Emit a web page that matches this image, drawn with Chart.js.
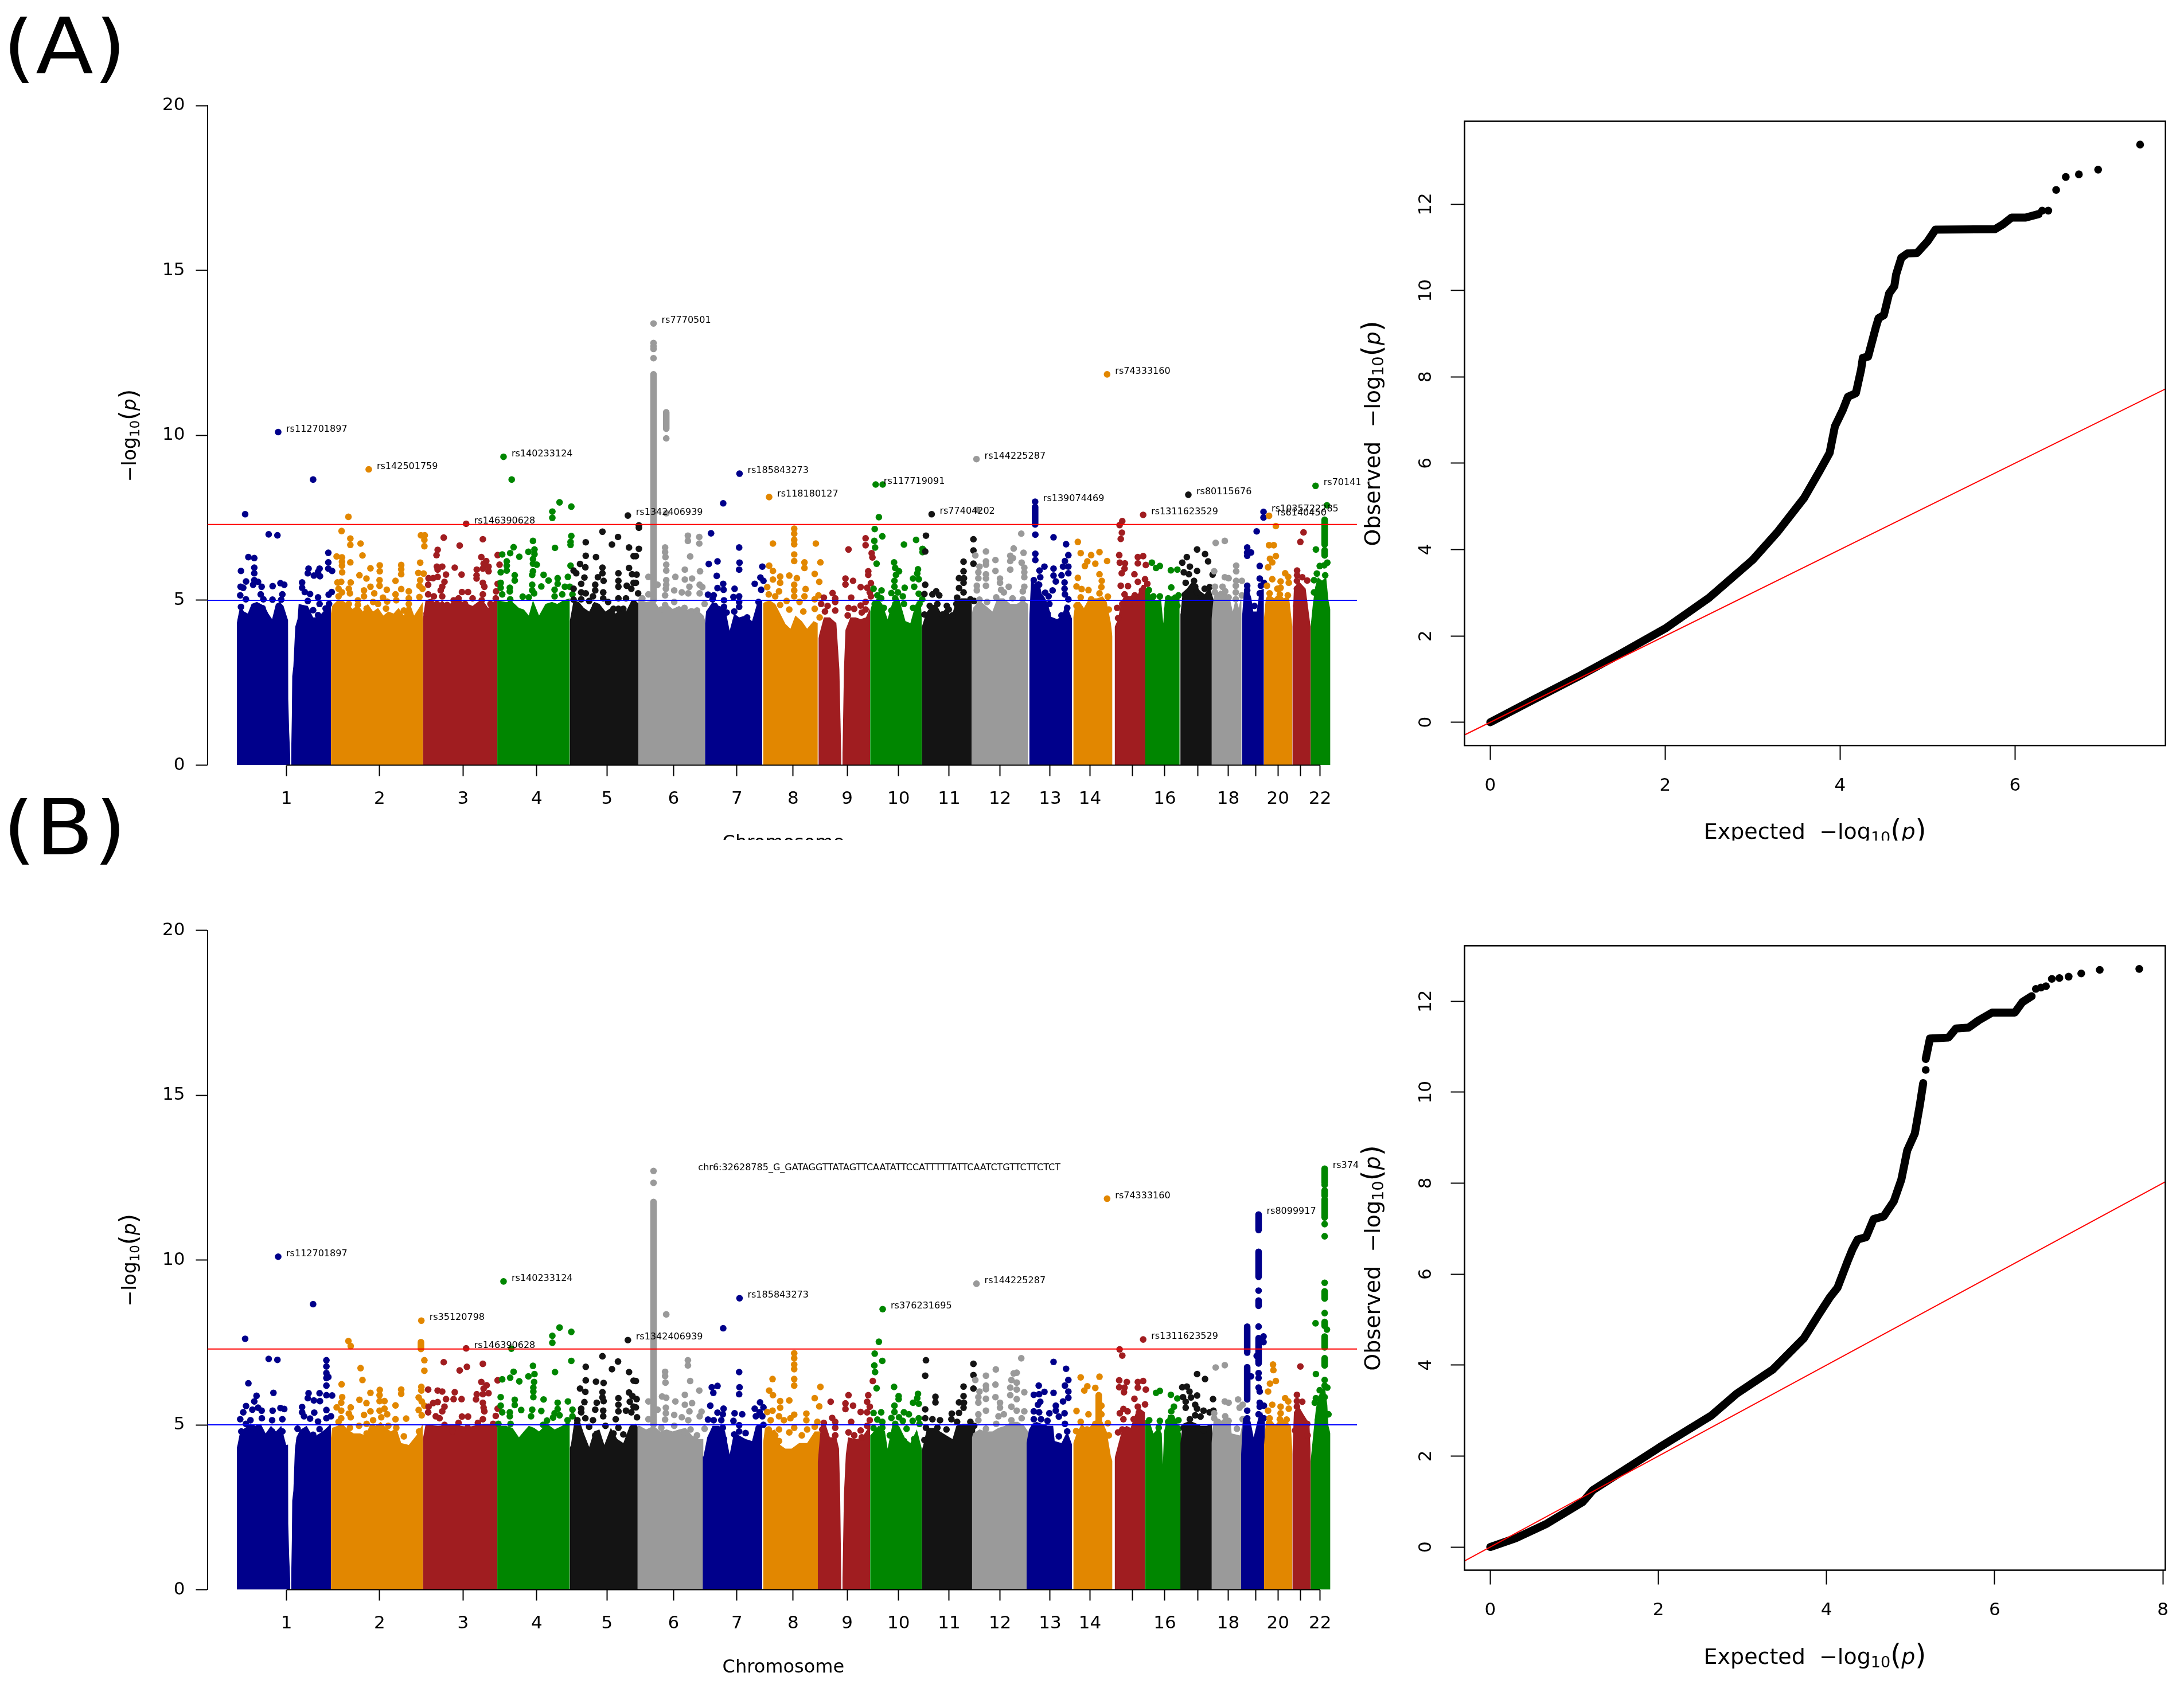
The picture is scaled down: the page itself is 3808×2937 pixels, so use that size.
<!DOCTYPE html>
<html>
<head>
<meta charset="utf-8">
<title>Manhattan and QQ plots</title>
<script src="https://cdn.jsdelivr.net/npm/chart.js@4/dist/chart.umd.min.js"></script>
<style>
html,body{margin:0;padding:0;background:#fff;width:3808px;height:2937px;overflow:hidden}
canvas{position:absolute;display:block}
.tag{position:absolute;left:5px;overflow:hidden;font:136px/158px "DejaVu Sans";color:#000;z-index:5;width:230px}
.tag div{margin-top:-28px;transform:scaleX(1.08);transform-origin:left top}
</style>
</head>
<body>
<div class="tag" style="top:29px;height:127px"><div>(A)</div></div>
<div class="tag" style="top:1392px;height:127px"><div>(B)</div></div>
<canvas id="manA" width="2372" height="1465" style="left:0;top:0"></canvas>
<canvas id="qqA" width="1436" height="1466" style="left:2372px;top:0"></canvas>
<canvas id="manB" width="2372" height="1472" style="left:0;top:1465px"></canvas>
<canvas id="qqB" width="1436" height="1472" style="left:2372px;top:1465px"></canvas>
<script>
// genome position in Mb along x, -log10(p) along y
const chrTicks = [131,376,596,790,975,1150,1317,1465,1607.6,1742.7,1876,2010,2142,2247,2359,2444,2531,2611,2683,2742,2801,2853];
const chrTickText = ['1','2','3','4','5','6','7','8','9','10','11','12','13','14','','16','','18','','20','','22'];
const yTicks = [0,5,10,15,20];
const sigLine = 7.3, suggestiveLine = 5;
const qqTicksA = [0,2,4,6], qqTicksB = [0,2,4,6,8], qqYTicks = [0,2,4,6,8,10,12];

// panel A: solid mass under the points, per chromosome
const massA1a=[[0,4.3],[2,4.43],[9,4.83],[19,4.66],[29,4.6],[39,4.89],[53,4.95],[63,4.89],[73,4.83],[83,4.6],[93,4.43],[103,4.89],[113,4.95],[123,4.83],[134,4.43],[135,4.4],[135.5,2],[138,1],[141,.2]];
const massA1b=[[143,.2],[145,1.5],[146,2.7],[149,3],[154,4.2],[160,4.43],[163,4.89],[174,4.86],[187,4.83],[201,4.48],[214,4.48],[228,4.66],[238,4.89],[248,5]];
const massA2=[[248,4.6],[251,4.83],[265,5],[278,5],[292,4.89],[305,4.74],[319,4.86],[332,4.66],[345,4.89],[359,4.66],[372,4.77],[386,4.54],[399,4.66],[413,4.6],[426,4.77],[440,4.54],[453,5],[467,4.54],[480,4.77],[490,4.95]];
const massA3=[[490,4.43],[497,5],[514,5.06],[527,4.83],[541,5],[554,4.83],[568,4.95],[581,5.06],[595,4.95],[608,4.89],[621,4.83],[635,4.95],[648,5],[662,4.77],[675,4.95],[686,5.06]];
const massA4=[[686,5],[709,4.95],[726,4.95],[743,4.77],[756,4.72],[769,4.54],[780,5],[796,4.54],[813,4.89],[830,4.95],[844,4.89],[860,5],[877,5.06]];
const massA5=[[877,4.37],[887,5],[901,4.95],[914,4.77],[928,4.66],[941,4.95],[955,4.89],[971,4.66],[985,4.77],[998,4.6],[1012,4.77],[1025,4.66],[1039,4.98],[1051,4.98],[1058,4.9]];
const massA6=[[1057,5.06],[1078,4.95],[1098,5],[1115,4.72],[1132,4.89],[1148,4.74],[1165,4.83],[1182,4.69],[1196,4.77],[1212,4.72],[1229,4.54],[1233,4.4]];
const massA7=[[1233,4.3],[1236,4.66],[1253,4.95],[1270,4.83],[1286,4.77],[1298,4.08],[1310,4.6],[1323,4.48],[1340,4.54],[1357,4.37],[1370,4.89],[1384,5]];
const massA8=[[1386,4.9],[1391,4.95],[1404,5],[1418,4.89],[1431,4.6],[1445,4.28],[1458,4.14],[1471,4.54],[1488,4.37],[1502,4.14],[1519,4.37],[1530,4.31]];
const massA9a=[[1532,3.85],[1534,3.96],[1546,4.48],[1562,4.48],[1579,4.31],[1587,2.9],[1592,.2]];
const massA9b=[[1595,.2],[1599,2.9],[1603,4.1],[1616,4.48],[1630,4.48],[1643,4.43],[1657,4.48],[1668,4.77]];
const massA10=[[1668,4.66],[1673,4.89],[1687,5.06],[1700,4.89],[1714,4.43],[1727,4.95],[1744,5.06],[1761,4.37],[1774,4.31],[1788,4.89],[1801,4.95],[1804,4.5]];
const massA11=[[1804,4.19],[1815,4.6],[1828,4.83],[1842,4.89],[1855,4.6],[1869,4.77],[1882,4.48],[1892,4.89],[1906,5.06],[1922,5.06],[1936,4.95]];
const massA12=[[1936,4.6],[1939,4.77],[1956,5],[1973,4.83],[1990,4.66],[2003,5.06],[2020,5.06],[2037,4.89],[2054,4.89],[2070,5],[2084,4.89]];
const massA13=[[2087,4.43],[2092,5.67],[2100,5.5],[2112,5.6],[2120,5.2],[2127,5.1],[2136,4.9],[2145,4.5],[2160,4.43],[2172,4.5],[2184,4.9],[2200,4.43]];
const massA14=[[2203,4.48],[2209,4.95],[2220,4.95],[2231,4.77],[2242,5],[2253,5.06],[2266,5.06],[2280,5.12],[2291,4.95],[2302,4.31],[2306,3.9]];
const massA15=[[2312,4.19],[2321,4.43],[2329,4.95],[2340,5.18],[2351,5.12],[2362,5.18],[2373,5.18],[2384,5.47],[2395,5.47]];
const massA16=[[2392,5.3],[2398,5.35],[2412,5.06],[2423,5],[2434,5.06],[2440,4.3],[2444,5],[2455,5.06],[2469,5.18],[2483,5.12]];
const massA17=[[2485,4.6],[2486,4.66],[2491,5.24],[2502,5.35],[2513,5.52],[2524,5.59],[2535,5.3],[2549,5.18],[2562,5.41],[2573,5]];
const massA18=[[2567,4.43],[2573,5.12],[2590,5.3],[2603,5.24],[2614,5.12],[2623,4.66],[2631,5.06],[2639,4.77],[2646,5.18]];
const massA19=[[2647,4.43],[2653,5.35],[2664,5.35],[2672,5.06],[2677,4.66],[2686,4.66],[2694,5.3],[2705,5.35]];
const massA20=[[2705,4.43],[2710,5.06],[2718,5.18],[2732,5.06],[2746,5.24],[2757,5.06],[2771,5.12],[2780,4.19]];
const massA21=[[2780,4.19],[2784,5.35],[2796,5.59],[2815,5.35],[2828,4.19]];
const massA22=[[2828,4.19],[2834,4.89],[2840,5.4],[2847,5.7],[2858,5.6],[2869,5.7],[2875,5],[2880,4.72]];

// panel A: single SNPs above the mass
const hitsA1=[[109,10.1],[201,8.66],[22,7.61],[84,7],[107,6.97],[241,6.44],[241,6.15],[241,5.96],[251,5.89],[30.5,6.31],[46,6.28],[11,5.89],[46,5.99],[46,5.82],[46,5.61],[24.4,5.57],[189,5.96],[187,5.82],[203,5.75],[218,5.96],[219,5.73],[214,5.86],[94.4,5.43],[115,5.52],[125,5.47],[172,5.54],[172,5.38],[179,5.25],[193,5.19],[214,5.09],[242,5.17],[250,5.25],[10,5.41],[17,5.38],[9,5.15],[24,5.03],[43,5.47],[56,5.56],[65.5,5.41],[63,5.18],[70,5.03],[94,5.02],[120,5.18],[117,5.02],[187,4.98],[218,4.89],[201,4.7],[11,4.8],[68,4.76],[214,4.55],[234,4.75],[243,4.89]];
const hitsA2=[[347.5,8.97],[294,7.53],[276,7.1],[299,6.87],[299,6.68],[326,6.72],[331,6.36],[299,6.15],[263,6.33],[277,6.3],[277,6.05],[277.5,5.85],[277,6.17],[485,6.97],[495,6.97],[494,6.83],[494,6.64],[483,6.14],[478,5.83],[492,5.81],[483,5.61],[481,5.44],[489,5.35],[481,5.1],[376.5,6.06],[376.5,5.88],[352,5.97],[433,6.07],[433,5.94],[433,5.79],[323,5.76],[341.5,5.66],[376,5.61],[376,5.44],[418,5.59],[300,5.54],[265,5.54],[275,5.56],[268,5.35],[295,5.35],[352,5.41],[335,5.3],[395,5.32],[433,5.34],[453,5.27],[453,5.06],[453,4.89],[418,5.18],[385,5.08],[396,4.96],[362,5.21],[335,5.12],[319,5],[298,5.21],[277,5.24],[268,5.12],[420,5],[342,4.75],[440,4.69],[393,4.75],[295,4.89],[319,4.86],[359,4.95],[372,4.89]];
const hitsA3=[[604,7.32],[545,6.9],[587,6.66],[648,6.85],[529,6.53],[526,6.37],[644,6.31],[657,6.19],[687,6.37],[692,6.08],[650,6.11],[527,6.02],[541,6.02],[529,5.93],[574,5.99],[648,5.96],[663,6.02],[663,5.88],[632,5.93],[551,5.78],[592,5.78],[631.5,5.76],[631.5,5.66],[529,5.71],[505,5.67],[517,5.67],[547,5.56],[541,5.41],[648,5.53],[652,5.41],[648,5.18],[687,5.5],[683,5.27],[593,5.25],[609,5.25],[504,5.47],[504,5.18],[537,5.3],[541,5.12],[519,5.12],[584,5.06],[571,5],[621,5.06],[645,5],[682,5.06],[527,4.89],[554,4.86],[601,4.89],[668,4.89],[500,4.6]];
const hitsA4=[[702.5,9.35],[724,8.66],[831,7.69],[831,7.5],[850,7.97],[881,7.84],[881,6.95],[879,6.77],[879,6.68],[780,6.8],[838,6.59],[729,6.61],[720,6.43],[699,6.39],[744,6.32],[768,6.47],[784,6.54],[784,6.4],[780,6.25],[780,6.11],[790,6.08],[711,6.18],[711,6.05],[711,5.9],[695,5.85],[780,5.88],[778,5.77],[808,5.77],[732,5.76],[732,5.6],[821,5.6],[845,5.67],[845,5.5],[872,5.71],[879,6.05],[864,5.41],[802,5.42],[778,5.47],[778,5.3],[837,5.32],[837,5.12],[857,5.18],[695,5.53],[695,5.38],[719,5.38],[719,5.27],[699,5.18],[753,5.11],[769,5.09],[783,5.21],[720,5.03],[884,5.18],[877,5.41]];
const hitsA5=[[1030,7.57],[963,7.08],[1004,6.92],[919,6.76],[988,6.69],[1033,6.6],[919,6.35],[946,6.31],[1045,6.34],[904,6.1],[918,6],[963,5.99],[1033,5.98],[963,5.82],[1005,5.82],[887,5.9],[894,5.82],[915.5,5.69],[951,5.7],[966,5.59],[1005,5.59],[1005,5.41],[1041,5.79],[1045,5.53],[1027,5.44],[1039,5.35],[907,5.5],[887,5.35],[907,5.24],[919,5.21],[944,5.47],[944,5.3],[965,5.24],[938,5.12],[887,5.02],[907,5.03],[928,4.98],[965,5.06],[1005,5.06],[1025,5.06],[978,4.95],[1005,4.74],[992,4.74],[944,4.83],[1018,4.74],[1059,7.27],[1059,7.2],[1059,6.56],[1051,6.34],[1053,5.78],[1051,5.53],[1057,5.21]];
const hitsA6=[[1097.5,13.39],[1097.5,12.8],[1097.5,12.7],[1097.5,12.62],[1097.5,12.34],[1131,9.91],[1131,7.64],[1188,6.96],[1188,6.8],[1218,6.92],[1218,6.72],[1128,6.6],[1128,6.46],[1129,6.31],[1194,6.33],[1131,6.08],[1131,5.9],[1180,5.93],[1220,5.88],[1155,5.71],[1084,5.71],[1180,5.63],[1199,5.66],[1131,5.61],[1131,5.47],[1130,5.35],[1152,5.3],[1128,5.15],[1192,5.41],[1219,5.47],[1226,5.4],[1172,5.24],[1219,5.21],[1189,5.21],[1108,5.47],[1084,5.18],[1068,5.06],[1232,4.89],[1128,4.86],[1152,4.95],[1179,4.77],[1212,4.69],[1118,4.72]];
const hitsA7=[[1281,7.94],[1324,8.84],[1249,7.03],[1323,6.6],[1324,6.14],[1323,5.93],[1243,6.1],[1266,6.18],[1264,5.74],[1281,5.5],[1266,5.37],[1282,5.32],[1311,5.35],[1241,5.17],[1256,5.15],[1323,5.12],[1308,5.1],[1283,5],[1253,5.03],[1384,6.02],[1379,5.69],[1387,5.59],[1364,5.5],[1381,5.32],[1283,4.8],[1323,4.95],[1323,4.8],[1374,4.95],[1290,4.63],[1310,4.66],[1259,4.83],[1344,4.48]];
const hitsA8=[[1402,8.13],[1468,7.17],[1468,7.02],[1468,6.83],[1468,6.7],[1412,6.72],[1525,6.72],[1468,6.39],[1468,6.19],[1495,6.15],[1495,5.98],[1537,6.15],[1402,6.05],[1412,5.89],[1522,5.8],[1431,5.72],[1412,5.63],[1431,5.53],[1455,5.75],[1475,5.67],[1534,5.56],[1397,5.4],[1468,5.47],[1468,5.3],[1468,5.12],[1498,5.34],[1428,5.27],[1401,5.18],[1418,5.12],[1495,5.12],[1532,5.15],[1448,4.98],[1522,5.03],[1482,4.95],[1431,4.86],[1407,4.83],[1492,4.66],[1455,4.72],[1428,4.43],[1522,4.74],[1535,4.48]];
const hitsA9=[[1611,6.54],[1656,6.88],[1656,6.67],[1672,6.43],[1674,6.3],[1663,5.88],[1663,5.77],[1603,5.66],[1603,5.48],[1623,5.59],[1643,5.4],[1670,5.52],[1660,5.38],[1667,5.24],[1670,5.12],[1546,5.08],[1569,5.22],[1576,5.06],[1576,4.95],[1618,5.08],[1539,4.89],[1556,4.83],[1576,4.69],[1549,4.66],[1611,4.77],[1626,4.74],[1643,4.84],[1656,4.95],[1646,4.63],[1656,4.72],[1609,4.54]];
const hitsA10=[[1701,8.51],[1682.6,8.51],[1691,7.52],[1680,7.16],[1700,6.94],[1679,6.8],[1681,6.6],[1685,6.11],[1789,6.83],[1757,6.69],[1806,6.56],[1806,6.46],[1731,6.15],[1734,5.98],[1744,5.88],[1736,5.77],[1794,5.94],[1792,5.81],[1781,5.66],[1796,5.64],[1732,5.59],[1732,5.41],[1677,5.35],[1759,5.38],[1784,5.41],[1698,5.3],[1724,5.22],[1741,5.24],[1796,5.2],[1687,5.15],[1754,5.12],[1697,5.06],[1734,5.06],[1805,5.03],[1680,4.89],[1704,4.77],[1724,4.69],[1757,4.89],[1781,4.77],[1798,4.89]];
const hitsA11=[[1830,7.61],[1815,6.96],[1813,6.48],[1940,6.85],[1940,6.51],[1940,6.11],[1914,6.17],[1914,5.88],[1902,5.67],[1915,5.67],[1914,5.53],[1902,5.37],[1914,5.24],[1813,5.47],[1811,5.19],[1842,5.27],[1832,5.18],[1850,5.15],[1897,5.08],[1932,5.03],[1942,4.98],[1825,4.83],[1845,4.89],[1870,4.83],[1875,4.72],[1811,4.57],[1858,4.57],[1885,4.54],[1895,4.89]];
const hitsA12=[[1948,9.28],[1950,7.74],[2066,7.02],[1973,6.48],[2037,6.35],[2046,6.57],[2072,6.44],[1945,6.36],[1998,6.22],[1973,6.18],[1973,6.08],[2037,6.19],[2044,6.28],[2067,6.14],[2074,5.99],[1956,6.02],[1953,5.85],[1998,5.89],[2037,5.93],[2074,5.85],[2074,5.7],[1973,5.79],[1953,5.67],[1973,5.66],[2010,5.66],[2010,5.53],[1973,5.44],[1949,5.44],[1949,5.3],[2033,5.41],[2074,5.41],[2013,5.32],[2070,5.27],[1956,5.02],[2000,5.09],[2043,5.06],[2020,5.24],[1976,4.95],[2070,5.03]];
const hitsA13=[[2102.5,7.99],[2103,6.99],[2151,6.91],[2184,6.7],[2103,6.41],[2103,6.22],[2190,6.37],[2181,6.19],[2190,6.02],[2176,6.02],[2190,5.82],[2127,6.02],[2114,5.9],[2151,5.96],[2151,5.75],[2172,5.76],[2157,5.57],[2180,5.54],[2116,5.7],[2099,5.61],[2113,5.47],[2180,5.35],[2148.5,5.3],[2129,5.23],[2138,5.12],[2181,5.18],[2190,5.03],[2140,4.89],[2187,4.77],[2172,4.54],[2135,4.6]];
const hitsA14=[[2292,11.85],[2215,6.77],[2222.5,6.43],[2250,6.37],[2272,6.46],[2240,6.18],[2233.5,6.04],[2261,6.11],[2292,6.19],[2215,5.68],[2272,5.79],[2278,5.59],[2211.5,5.42],[2225,5.34],[2243,5.31],[2277,5.4],[2272,5.21],[2222.5,5.09],[2294,5.11],[2250,5.03],[2296.5,4.72],[2211.5,4.83]];
const hitsA15=[[2387,7.59],[2325,7.28],[2332,7.4],[2331,7.05],[2328,6.86],[2324,6.37],[2325.5,6.14],[2339,6.12],[2338,5.96],[2330.5,5.82],[2373,6.31],[2387,6.34],[2373,6.12],[2394,6.07],[2364,5.79],[2392,5.64],[2373,5.56],[2398,5.5],[2328,5.44],[2347,5.43],[2338,5.18],[2365,5.15],[2384,5.3],[2318.5,4.77],[2332,4.89],[2365,4.89],[2321,4.46]];
const hitsA16=[[2410,6.14],[2421,5.98],[2431,6.04],[2460,5.91],[2477,5.93],[2461,5.39],[2402,5.31],[2431,5.12],[2453,5.06],[2480,5.15],[2414,5.12],[2477,4.83],[2450,4.72],[2453,4.46]];
const hitsA17=[[2506,8.2],[2529,6.54],[2550,6.4],[2558,6.18],[2502,6.31],[2490,6.14],[2510,6.02],[2529,5.89],[2494,5.85],[2507.5,5.79],[2570,5.78],[2521,5.59],[2499,5.53],[2524,5.41],[2549,5.35],[2562,5.4],[2497,5.17],[2529,5.24],[2540,5.12]];
const hitsA18=[[2578,6.74],[2602,6.8],[2574,5.88],[2632,6.05],[2632,5.88],[2602,5.7],[2612,5.67],[2647,5.59],[2632,5.59],[2631,5.44],[2576,5.41],[2576,5.24],[2596,5.41],[2603,5.27],[2631,5.24],[2631,5.03],[2581.5,5.03],[2612,5.09],[2647,5.15]];
const hitsA19=[[2704,7.68],[2704,7.51],[2686,7.09],[2661,6.6],[2661,6.45],[2671,6.45],[2661,6.35],[2694,6.04],[2694,5.66],[2697,5.44],[2661,5.44],[2661,5.3],[2705,5.53],[2694,5.21],[2661,5.12],[2680,4.83],[2688,4.37]];
const hitsA20=[[2718.5,7.56],[2736.5,7.25],[2718.5,6.67],[2731,6.67],[2736.5,6.34],[2721,6.26],[2727,6.15],[2716,6],[2761,5.82],[2769,5.71],[2770.5,5.53],[2727,5.64],[2713,5.44],[2749,5.57],[2749,5.38],[2740.4,5.35],[2768,5.15],[2720,5.21],[2747,5.18]];
const hitsA21=[[2809.4,7.06],[2801,6.77],[2792.4,5.9],[2792.4,5.76],[2806,5.7],[2819,5.6],[2792,5.59],[2792,5.35],[2803.4,5.3],[2790,4.83]];
const hitsA22=[[2841,8.47],[2871,7.88],[2842,6.54],[2872,6.14],[2864,6.06],[2852,6.04],[2844.5,5.81],[2837,5.61],[2866.4,5.76],[2858,5.35],[2837,5.24],[2864,5.06]];

// tight vertical runs of SNPs: chromosome, x, low y, high y
const stacksA=[[6,1097.5,5,11.85],[6,1131,10.2,10.7],[13,2102.5,7.3,7.83],[22,2865,6.69,7.44],[22,2865,6.36,6.52]];
const snpsA=[['rs112701897',109,10.1],['rs142501759',347.5,8.97],['rs140233124',702.5,9.35],['rs146390628',604,7.32],['rs1342406939',1030,7.57],['rs7770501',1097.5,13.39],['rs185843273',1324,8.84],['rs118180127',1402,8.13],['rs117719091',1682.6,8.51],['rs77404202',1830,7.61],['rs144225287',1948,9.28],['rs139074469',2102.5,7.99],['rs74333160',2292,11.85],['rs1311623529',2387,7.59],['rs80115676',2506,8.2],['rs1035722285',2704,7.68],['rs6140450',2718.5,7.56],['rs70141',2841,8.47]];

// panel B
const massB1a=[[0,4.3],[2,4.39],[9,4.8],[22,4.91],[36,5.03],[49,4.97],[63,5.03],[76,4.74],[90,4.97],[103,4.8],[117,4.97],[130,4.39],[135,4.4],[135.5,2],[138,1],[141,.2]];
const massB1b=[[143,.2],[145,1.5],[146,2.7],[149,3],[153,4.26],[157,4.62],[167,4.85],[184,4.97],[201,4.62],[218,4.74],[231,4.85],[248,5.03]];
const massB2=[[248,4.6],[251,4.91],[265,4.97],[278,5.03],[292,4.86],[308,4.74],[325,4.74],[339,4.68],[352,5.03],[366,4.97],[379,5.09],[393,4.91],[406,4.8],[420,4.91],[433,4.45],[453,4.39],[473,4.68],[490,5.03]];
const massB3=[[490,4.57],[497,5],[530,4.97],[570,5],[610,4.94],[650,5.03],[686,5.03]];
const massB4=[[686,4.97],[689,4.97],[709,4.97],[726,4.91],[743,4.62],[756,4.8],[769,4.97],[783,4.91],[796,4.8],[817,5.03],[837,4.86],[857,4.97],[877,5.14]];
const massB5=[[877,4.3],[880,4.39],[891,5.26],[904,5.09],[914,4.74],[928,4.33],[941,4.8],[955,4.86],[968,4.39],[985,4.91],[1002,4.57],[1018,4.45],[1035,4.97],[1051,5.03],[1058,4.9]];
const massB6=[[1055,4.97],[1061,4.97],[1078,4.86],[1098,4.97],[1115,4.8],[1132,4.86],[1148,4.8],[1165,4.86],[1182,4.91],[1199,4.68],[1216,4.57],[1229,4.57]];
const massB7=[[1227,4.04],[1229,4.04],[1239,4.62],[1253,4.97],[1270,4.97],[1286,4.8],[1298,4.1],[1310,4.8],[1323,4.68],[1340,4.57],[1357,4.51],[1367,4.97],[1384,5.03]];
const massB8=[[1386,4.45],[1391,4.91],[1401,4.8],[1418,4.86],[1431,4.39],[1445,4.28],[1461,4.28],[1481,4.45],[1502,4.45],[1522,4.8],[1537,4.8]];
const massB9a=[[1530,3.85],[1539,5.09],[1552,4.97],[1562,4.62],[1579,4.62],[1586,4.28],[1589,2.9],[1592,.2]];
const massB9b=[[1595,.2],[1599,2.9],[1604,4.1],[1610,4.62],[1630,4.57],[1645,4.6],[1657,4.8],[1668,5]];
const massB10=[[1668,4.68],[1673,4.74],[1690,4.97],[1707,4.8],[1714,4.28],[1727,5.03],[1744,4.97],[1761,4.57],[1774,4.45],[1791,4.86],[1804,4.28]];
const massB11=[[1804,4.22],[1808,4.39],[1818,4.91],[1835,4.91],[1852,4.8],[1869,4.68],[1885,4.57],[1895,4.97],[1912,5.03],[1929,5.03],[1945,4.97]];
const massB12=[[1936,4.6],[1939,4.74],[1956,4.86],[1973,4.8],[1990,4.8],[2006,4.91],[2023,4.97],[2040,5.09],[2057,5.09],[2074,4.97],[2084,4.8]];
const massB13=[[2080,4.45],[2086,4.85],[2095,5.03],[2106,5.09],[2120,5.03],[2135,4.97],[2150,4.97],[2154,4.51],[2172,4.45],[2187,4.8],[2200,4.39]];
const massB14=[[2203,4.45],[2212,4.74],[2225,5.03],[2239,4.86],[2255,5.03],[2269,5.2],[2280,5.09],[2291,4.8],[2302,4.04],[2306,3.9]];
const massB15=[[2312,3.97],[2313,4.04],[2321,4.39],[2332,4.86],[2343,4.97],[2354,4.91],[2368,5.38],[2379,5.49],[2392,5.38]];
const massB16=[[2392,5.14],[2403,5.14],[2414,4.74],[2428,4.91],[2436,4.74],[2439,3.8],[2442,4.8],[2453,5.3],[2468,5.3],[2483,4.9],[2487,4.7]];
const massB17=[[2485,4.45],[2491,5.03],[2510,5.12],[2529,5.03],[2538,4.97],[2555,4.97],[2568,5.03],[2571,4.39]];
const massB18=[[2567,4.45],[2574,5.3],[2590,5.1],[2605,5.25],[2617,5.14],[2620,4.74],[2642,4.68],[2650,5.14],[2655,4.8]];
const massB19=[[2645,4.1],[2650,5.2],[2662,5.3],[2670,5.09],[2678,4.62],[2690,5.2],[2700,5.4],[2708,5.09]];
const massB20=[[2705,4.33],[2710,5.1],[2720,5.2],[2735,5],[2750,5.2],[2765,5.1],[2776,4.97],[2780,4.19]];
const massB21=[[2780,4.1],[2784,5.38],[2795,5.6],[2809,5.32],[2825,5.03],[2828,4.19]];
const massB22=[[2828,3.9],[2836,4.83],[2842,5.5],[2850,5.9],[2865,6.2],[2872,5.6],[2875,4.97],[2880,4.74]];

const hitsB1=[[109,10.1],[201,8.66],[22,7.61],[84,7],[107,6.97],[236,6.96],[236,6.77],[236,6.57],[236,6.42],[241,6.45],[236,6.19],[236,5.9],[251,5.89],[30.5,6.26],[96.5,5.97],[52,5.88],[46,5.71],[24.4,5.57],[189,5.96],[187,5.81],[203,5.74],[218,5.96],[219,5.72],[94.4,5.43],[115,5.51],[125,5.48],[172,5.54],[172,5.38],[177,5.26],[204,5.37],[193,5.19],[214,5.1],[236,5.45],[248,5.26],[236,5.2],[17,5.38],[9,5.17],[36,5.14],[41,5.46],[56,5.52],[65.5,5.43],[66,5.2],[93,5.14],[120,5.17],[24,5.03],[12,4.8],[36,4.86],[63,4.8],[93,4.8],[120,4.8],[201,4.7],[218,4.87],[160,4.88],[212,4.54]];
const hitsB2=[[294,7.54],[300,7.39],[494,6.96],[494,6.64],[326,6.72],[331,6.36],[276,6.23],[486,6.15],[486,6.04],[376.5,6.06],[352,5.97],[433,6.07],[433,5.94],[277.5,5.84],[323,5.76],[341.5,5.66],[376,5.9],[376,5.72],[389,5.72],[275,5.67],[263,5.53],[300,5.53],[418,5.59],[479,5.83],[487,5.71],[494,5.58],[479,5.45],[487,5.29],[275,5.43],[376,5.43],[389,5.49],[396,5.32],[352,5.41],[335,5.3],[295,5.34],[300,5.23],[446,5.19],[418,5.17],[380.5,5.23],[275,5.2],[359,5.14],[268,5.09],[322,4.97],[342,5.03],[420,4.91],[399,4.97],[298,4.91],[342,4.74],[416,4.74],[440,4.65],[480,4.8],[486,8.16]];
const hitsB3=[[604,7.32],[545,6.9],[587,6.65],[606,6.76],[648,6.85],[504,6.07],[529,6.04],[541,6.01],[574,5.99],[551,5.78],[571,5.78],[592,5.78],[644,6.3],[658,6.2],[687,6.35],[650,6.1],[648,5.93],[663,5.96],[632,5.93],[630,5.77],[529,5.69],[517,5.66],[505,5.55],[547,5.55],[541,5.41],[648,5.67],[650,5.52],[652,5.41],[687,5.49],[682,5.27],[593,5.25],[609,5.25],[648,5.17],[504,5.38],[534,5.2],[524,5.26],[584,5.06],[547,5],[635,5.06],[675,5.03],[608,4.91],[568,4.8]];
const hitsB4=[[702.5,9.35],[723,7.31],[831,7.7],[831,7.49],[850,7.95],[881,7.82],[881,6.94],[780,6.79],[838,6.6],[729,6.61],[720,6.43],[699,6.38],[744,6.32],[768,6.47],[784,6.54],[783,6.3],[781,6.13],[781,6.01],[781,5.84],[695,5.84],[808,5.77],[732,5.76],[732,5.6],[872,5.71],[845,5.67],[845,5.48],[884,5.46],[802,5.42],[749,5.45],[778,5.46],[775,5.26],[837,5.35],[833,5.22],[850,5.29],[871,5.14],[695,5.58],[699,5.38],[719,5.38],[719,5.26],[884,5.26],[817,5.13],[721,5.03],[806.5,5],[689,5.03]];
const hitsB5=[[1030,7.57],[963,7.08],[1004,6.92],[919,6.76],[988,6.69],[1033,6.6],[919,6.35],[946,6.31],[966,6.27],[1045,6.34],[904,6.1],[918,6],[963,5.99],[1033,5.98],[963,5.83],[1005,5.81],[948,5.67],[915.5,5.69],[966,5.72],[1005,5.61],[1035,5.7],[1042,5.87],[907,5.49],[907,5.38],[944,5.46],[965,5.43],[965,5.26],[1005,5.41],[1025,5.43],[1045,5.55],[1039,5.38],[918,5.2],[897,5.14],[938,5.14],[998,5.17],[971,4.97],[928,4.94],[1005,4.91],[992,4.74],[1018,4.71],[944,4.68],[1051,6.33],[1053,5.78],[1051,5.53],[1054,5.23]];
const hitsB6=[[1097.5,12.7],[1097.5,12.34],[1131,8.35],[1188,6.96],[1188,6.8],[1128,6.61],[1128,6.48],[1129,6.28],[1194,6.33],[1218,6.04],[1180,5.91],[1120,5.86],[1131,5.82],[1155,5.71],[1084,5.71],[1180,5.61],[1199,5.66],[1130,5.52],[1130,5.35],[1152,5.3],[1128,5.16],[1224,5.4],[1192,5.41],[1219,5.26],[1172,5.23],[1189,5.14],[1108,5.46],[1084,5.17],[1232,4.88],[1179,4.77],[1212,4.68],[1118,4.91],[1152,4.97],[1195,4.86]];
const hitsB7=[[1324,8.84],[1281,7.93],[1323,6.6],[1266,6.18],[1251,6.14],[1255,5.97],[1324,6.14],[1323,5.93],[1247,5.58],[1282,5.49],[1266,5.37],[1280,5.32],[1311,5.35],[1331,5.32],[1241,5.16],[1256,5.14],[1276,5.14],[1308,5.12],[1323,4.99],[1378,5.68],[1364,5.49],[1387,5.53],[1377,5.38],[1367,5.26],[1384,5.26],[1280,4.91],[1259,4.8],[1323,4.8],[1340,4.75],[1310,4.71],[1283,4.57],[1387,5]];
const hitsB8=[[1468,7.17],[1468,7.02],[1468,6.83],[1468,6.69],[1411,6.39],[1468,6.39],[1468,6.19],[1537,6.15],[1402,6.04],[1412,5.9],[1522,5.81],[1455,5.74],[1431,5.72],[1431,5.52],[1534,5.56],[1397,5.39],[1411,5.43],[1468,5.31],[1500,5.34],[1500,5.14],[1428,5.26],[1406,5.14],[1458,5.2],[1441,5.14],[1529,5.09],[1468,4.91],[1428,4.86],[1502,4.86],[1522,4.94],[1401,4.86],[1418,4.68],[1488,4.68],[1428,4.51],[1455,4.77]];
const hitsB9=[[1675,6.33],[1611,5.9],[1663,5.9],[1660,5.7],[1603,5.65],[1603,5.48],[1623,5.58],[1564,5.7],[1643,5.39],[1667,5.55],[1660,5.38],[1667,5.14],[1568,5.21],[1576,5.09],[1618,5.09],[1546,5.06],[1660,4.97],[1576,4.91],[1542,4.86],[1576,4.68],[1611,4.77],[1626,4.68],[1643,4.83],[1646,4.62]];
const hitsB10=[[1701,8.51],[1691,7.52],[1680,7.16],[1700,6.94],[1679,6.8],[1681,6.6],[1685,6.11],[1731,6.15],[1743,5.87],[1743,5.78],[1794,5.94],[1792,5.81],[1781,5.67],[1796,5.64],[1732,5.58],[1732,5.39],[1697,5.38],[1677,5.36],[1757,5.38],[1770,5.32],[1724,5.21],[1744,5.23],[1796,5.2],[1687,5.16],[1754,5.12],[1780,5.12],[1700,5.09],[1677,4.9],[1734,5.03],[1764,4.88],[1798,5.03],[1700,4.91],[1720,4.68],[1757,4.51],[1784,4.57]];
const hitsB11=[[1815,6.96],[1813,6.49],[1940,6.85],[1940,6.51],[1940,6.1],[1914,6.16],[1914,5.87],[1840,5.85],[1840,5.68],[1902,5.68],[1915,5.67],[1914,5.52],[1813,5.47],[1813,5.2],[1902,5.36],[1883,5.34],[1882,5.17],[1832,5.17],[1852,5.14],[1897,5.09],[1932,5.09],[1942,4.97],[1815,4.91],[1845,4.91],[1869,4.86],[1811,4.54]];
const hitsB12=[[1948,9.28],[2066,7.02],[1999,6.68],[1973,6.49],[2054,6.58],[2046,6.56],[1945,6.36],[1998,6.22],[1973,6.19],[1973,6.08],[2040,6.36],[2054,6.28],[2037,6.13],[2054,6.07],[2074,5.99],[1956,6.01],[1953,5.84],[1998,5.84],[2037,5.9],[2054,5.78],[1973,5.79],[1953,5.67],[1973,5.43],[2010,5.67],[2010,5.52],[2040,5.55],[1953,5.32],[2006,5.26],[2054,5.43],[2074,5.41],[2020,5.32],[1953,5.14],[2000,5.03],[2040,5.14],[2067,5.2],[1973,4.88]];
const hitsB13=[[2151,6.91],[2184,6.7],[2190,6.36],[2181,6.19],[2112,6.19],[2127,6],[2151,5.97],[2190,6.01],[2190,5.82],[2176,5.71],[2113,5.93],[2099,5.91],[2116,5.7],[2157,5.58],[2110,5.61],[2180,5.35],[2165,5.25],[2157,5.43],[2140,5.35],[2099,5.41],[2113,5.38],[2118,5.17],[2099,5.17],[2135,5.12],[2181,5.03],[2187,4.8],[2165,4.65]];
const hitsB14=[[2292,11.86],[2222.5,6.44],[2272,6.46],[2240,6.17],[2261,6.12],[2232,6.04],[2277,5.58],[2277,5.32],[2211.5,5.42],[2243,5.32],[2222.5,5.09],[2294,5.05],[2261,5.03],[2210.5,4.81],[2239,4.86],[2296.5,4.68]];
const hitsB15=[[2387,7.59],[2325,7.29],[2332,7.1],[2324,6.35],[2344,6.3],[2373,6.3],[2387,6.33],[2324,6.14],[2338,6.13],[2373,6.13],[2394,6.07],[2336.5,5.99],[2364,5.79],[2392,5.62],[2373,5.55],[2325.5,5.35],[2335,5.48],[2346,5.41],[2335,5.17],[2362,5.17],[2376,5.38],[2321,4.77],[2332,4.86]];
const hitsB16=[[2421,5.97],[2431,6.03],[2460,5.91],[2477,5.8],[2468,5.55],[2461,5.41],[2403,5.14],[2431,5.12],[2453,5.09],[2480,5.14],[2480,4.88],[2428,4.91]];
const hitsB17=[[2529,6.54],[2550,6.39],[2490,6.14],[2502,6.16],[2509,6.01],[2529,5.89],[2492,5.84],[2513,5.83],[2571,5.78],[2499,5.7],[2524,5.61],[2499,5.52],[2529,5.49],[2546,5.43],[2562,5.38],[2572,5.43],[2524,5.29],[2538,5.25],[2510,5.17],[2494,4.91],[2546,4.83]];
const hitsB18=[[2578,6.74],[2602,6.81],[2637,5.77],[2602,5.71],[2612,5.67],[2649,5.61],[2641,5.52],[2574,5.35],[2603,5.26],[2574,5.2],[2612,5.12],[2649,5.17],[2634,4.88],[2584,5.09]];
const hitsB19=[[2704,7.68],[2704,7.51],[2686,7.09],[2691,6.94],[2691,6.57],[2691,6.42],[2691,6.13],[2694,6.01],[2671,6.47],[2694,5.67],[2694,5.55],[2705,5.58],[2661,5.43],[2661,5.2],[2691,5.32],[2705,5.2],[2691,9.07],[2691,7.98]];
const hitsB20=[[2729,6.83],[2730,6.66],[2736.5,6.33],[2721,6.25],[2716,6.01],[2761,5.81],[2769,5.71],[2770.5,5.49],[2727,5.61],[2716,5.43],[2749,5.55],[2749,5.35],[2720,5.2],[2765,5.16],[2747,5.17]];
const hitsB21=[[2801,6.77],[2792,5.91],[2792,5.72],[2806,5.7],[2792,5.55],[2819,5.03],[2820,4.68],[2787,4.83]];
const hitsB22=[[2865,12.28],[2865,11.09],[2865,10.72],[2865,9.31],[2865,8.39],[2871,7.89],[2841,8.08],[2842,6.54],[2865,6.36],[2865,6.19],[2872,6.13],[2852,6.05],[2865,5.84],[2842,5.81],[2839,5.67],[2875,5.32],[2847,5.14]];
const stacksB=[[2,485,7.3,7.51],[6,1097.5,5,11.76],[14,2270,5.1,5.9],[19,2661,5.77,6.75],[19,2661,7.19,7.98],[19,2691,10.91,11.38],[19,2691,9.49,10.25],[19,2691,8.61,8.77],[19,2691,6.86,7.63],[22,2865,12.35,12.77],[22,2865,11.95,12.11],[22,2865,11.29,11.84],[22,2865,8.83,9.05],[22,2865,8,8.12],[22,2865,7.35,7.68],[22,2865,6.8,7.02]];
const snpsB=[['rs112701897',109,10.1],['rs35120798',486,8.16],['rs140233124',702.5,9.35],['rs146390628',604,7.32],['rs1342406939',1030,7.57],['chr6:32628785_G_GATAGGTTATAGTTCAATATTCCATTTTTATTCAATCTGTTCTTCTCT',1194,12.7],['rs185843273',1324,8.84],['rs376231695',1701,8.51],['rs144225287',1948,9.28],['rs74333160',2292,11.86],['rs1311623529',2387,7.59],['rs8099917',2691,11.38],['rs374',2865,12.77]];

// QQ panels: expected, observed
const qqCurveA=[[0,0],[.5,.53],[1,1.05],[1.5,1.6],[2,2.17],[2.5,2.88],[3,3.76],[3.29,4.42],[3.59,5.2],[3.76,5.8],[3.88,6.24],[3.94,6.85],[4.03,7.23],[4.09,7.54],[4.18,7.62],[4.24,8.17],[4.26,8.44],[4.32,8.47],[4.41,9.16],[4.44,9.36],[4.5,9.43],[4.56,9.93],[4.62,10.1],[4.64,10.37],[4.7,10.76],[4.77,10.86],[4.88,10.87],[5,11.14],[5.09,11.41],[5.77,11.42],[5.86,11.53],[5.96,11.69],[6.12,11.69],[6.27,11.77]];
const qqTailA=[[6.31,11.85],[6.38,11.85],[6.47,12.33],[6.58,12.63],[6.73,12.69],[6.95,12.8],[7.43,13.38]];
const qqCurveB1=[[0,0],[.3,.19],[.67,.51],[1.1,.99],[1.22,1.25],[1.71,1.83],[2.02,2.2],[2.63,2.89],[2.93,3.37],[3.36,3.9],[3.73,4.59],[3.91,5.12],[4.04,5.49],[4.13,5.7],[4.25,6.28],[4.31,6.55],[4.37,6.76],[4.47,6.81],[4.56,7.21],[4.68,7.27],[4.8,7.6],[4.89,8.08],[4.96,8.72],[5.05,9.09],[5.11,9.72],[5.15,10.2]];
const qqCurveB2=[[5.18,10.73],[5.23,11.18],[5.45,11.2],[5.54,11.4],[5.69,11.42],[5.81,11.58],[5.97,11.75],[6.24,11.75],[6.33,11.98],[6.44,12.11]];
const qqTailB=[[5.18,10.49],[6.49,12.27],[6.55,12.3],[6.61,12.33],[6.68,12.49],[6.77,12.51],[6.88,12.54],[7.03,12.61],[7.25,12.69],[7.72,12.71]];
const qqDiagA=[-.294,7.72], qqDiagB=[-.306,8.03];

const chrColours=['#00008b','#e28700','#a01d20','#008600','#141414','#9a9a9a'];
const massesA=[[1,massA1a],[1,massA1b],[2,massA2],[3,massA3],[4,massA4],[5,massA5],[6,massA6],[7,massA7],[8,massA8],[9,massA9a],[9,massA9b],[10,massA10],[11,massA11],[12,massA12],[13,massA13],[14,massA14],[15,massA15],[16,massA16],[17,massA17],[18,massA18],[19,massA19],[20,massA20],[21,massA21],[22,massA22]];
const massesB=[[1,massB1a],[1,massB1b],[2,massB2],[3,massB3],[4,massB4],[5,massB5],[6,massB6],[7,massB7],[8,massB8],[9,massB9a],[9,massB9b],[10,massB10],[11,massB11],[12,massB12],[13,massB13],[14,massB14],[15,massB15],[16,massB16],[17,massB17],[18,massB18],[19,massB19],[20,massB20],[21,massB21],[22,massB22]];
const hitListA=[hitsA1,hitsA2,hitsA3,hitsA4,hitsA5,hitsA6,hitsA7,hitsA8,hitsA9,hitsA10,hitsA11,hitsA12,hitsA13,hitsA14,hitsA15,hitsA16,hitsA17,hitsA18,hitsA19,hitsA20,hitsA21,hitsA22];
const hitListB=[hitsB1,hitsB2,hitsB3,hitsB4,hitsB5,hitsB6,hitsB7,hitsB8,hitsB9,hitsB10,hitsB11,hitsB12,hitsB13,hitsB14,hitsB15,hitsB16,hitsB17,hitsB18,hitsB19,hitsB20,hitsB21,hitsB22];

Chart.defaults.font.family='"DejaVu Sans"';
Chart.defaults.color='#000';
Chart.defaults.animation=false;

// draws -log10(p) with its subscript, centred on cx,cy
function drawLogP(ctx,cx,cy,size,lead,vertical){
    var family='"DejaVu Sans"';
    var parts=[];
    if(lead) parts.push({t:lead,font:size+'px '+family,dy:0});
    parts.push({t:'\u2212log',font:size+'px '+family,dy:0});
    parts.push({t:'10',font:Math.round(size*.7)+'px '+family,dy:size*.17});
    parts.push({t:'(',font:Math.round(size*1.3)+'px '+family,dy:size*.05});
    parts.push({t:'p',font:'italic '+size+'px '+family,dy:0});
    parts.push({t:')',font:Math.round(size*1.3)+'px '+family,dy:size*.05});
    ctx.save();
    ctx.fillStyle='#000';
    ctx.textBaseline='alphabetic';
    ctx.textAlign='left';
    var w=0;
    parts.forEach(function(p){ctx.font=p.font;w+=ctx.measureText(p.t).width;});
    ctx.translate(cx,cy);
    if(vertical) ctx.rotate(-Math.PI/2);
    var pos=-w/2;
    parts.forEach(function(p){ctx.font=p.font;ctx.fillText(p.t,pos,p.dy);pos+=ctx.measureText(p.t).width;});
    ctx.restore();
}

function manhattan(id,masses,hitList,stacks,snps,top,xHeight){
    var xMin=-77.6,xMax=2950.4;
    var ds=[];
    masses.forEach(function(m){
        var col=chrColours[(m[0]-1)%6];
        ds.push({data:m[1],borderWidth:0,pointRadius:0,backgroundColor:col,borderColor:col,fill:'origin',tension:0,order:1000-m[0]*10});
    });
    hitList.forEach(function(h,i){
        var col=chrColours[i%6];
        ds.push({data:h,showLine:false,pointRadius:5.8,pointBorderWidth:0,pointBackgroundColor:col,clip:false,order:1000-(i+1)*10-1});
    });
    stacks.forEach(function(s){
        var col=chrColours[(s[0]-1)%6];
        ds.push({data:[[s[1],s[2]],[s[1],s[3]]],borderColor:col,borderWidth:11.5,borderCapStyle:'round',pointRadius:0,order:1000-s[0]*10-2});
    });
    ds.push({data:[[xMin,sigLine],[xMax,sigLine]],borderColor:'#ff0000',borderWidth:2,pointRadius:0,order:1});
    ds.push({data:[[xMin,suggestiveLine],[xMax,suggestiveLine]],borderColor:'#0000ff',borderWidth:2,pointRadius:0,order:2});
    return new Chart(document.getElementById(id),{
        type:'line',
        data:{datasets:ds},
        options:{
            responsive:false,devicePixelRatio:1,events:[],
            layout:{padding:{top:top,right:2,left:0,bottom:0}},
            plugins:{legend:{display:false},tooltip:{enabled:false}},
            scales:{
                x:{type:'linear',min:xMin,max:xMax,
                    afterBuildTicks:function(s){s.ticks=chrTicks.map(function(v){return {value:v};});},
                    afterFit:function(s){s.height=xHeight;},
                    border:{display:false},
                    grid:{drawOnChartArea:false,drawTicks:true,tickLength:19,tickWidth:2,tickColor:'#000'},
                    ticks:{autoSkip:false,maxRotation:0,minRotation:0,padding:22,font:{size:31},color:'#000',
                        callback:function(v,i){return chrTickText[i];}}},
                y:{min:0,max:20,
                    afterBuildTicks:function(s){s.ticks=yTicks.map(function(v){return {value:v};});},
                    afterFit:function(s){s.width=361.5;},
                    border:{display:true,color:'#000',width:2},
                    grid:{drawOnChartArea:false,drawTicks:true,tickLength:20,tickWidth:2,tickColor:'#000'},
                    ticks:{padding:19,font:{size:31},color:'#000'}}
            }
        },
        plugins:[{
            id:'manhattanText',
            afterDatasetsDraw:function(c){
                var ctx=c.ctx,sx=c.scales.x,sy=c.scales.y;
                ctx.save();
                ctx.strokeStyle='#000';ctx.lineWidth=2;
                ctx.beginPath();
                ctx.moveTo(sx.getPixelForValue(chrTicks[0]),sy.bottom);
                ctx.lineTo(sx.getPixelForValue(chrTicks[21]),sy.bottom);
                ctx.stroke();
                ctx.font='16px "DejaVu Sans"';ctx.fillStyle='#000';ctx.textBaseline='middle';ctx.textAlign='left';
                snps.forEach(function(s){
                    ctx.fillText(s[0],sx.getPixelForValue(s[1])+14,sy.getPixelForValue(s[2])-5);
                });
                ctx.restore();
                drawLogP(ctx,237,(sy.top+sy.bottom)/2,33,'',true);
                ctx.save();
                ctx.font='32px "DejaVu Sans"';ctx.fillStyle='#000';ctx.textAlign='center';ctx.textBaseline='alphabetic';
                ctx.fillText('Chromosome',(sx.left+sx.right)/2+2,sy.bottom+144.5);
                ctx.restore();
            }
        }]
    });
}

function qq(id,curves,tail,diag,xTicks,xMin,xMax,yMin,yMax,top,xHeight){
    var ds=[];
    curves.forEach(function(c){
        ds.push({data:c,borderColor:'#000',borderWidth:14,borderCapStyle:'round',borderJoinStyle:'round',pointRadius:0,tension:0,order:3});
    });
    ds.push({data:tail,showLine:false,pointRadius:6.8,pointBorderWidth:0,pointBackgroundColor:'#000',order:2});
    ds.push({data:[[diag[0],diag[0]],[diag[1],diag[1]]],borderColor:'#ff0000',borderWidth:2,pointRadius:0,order:1});
    return new Chart(document.getElementById(id),{
        type:'line',
        data:{datasets:ds},
        options:{
            responsive:false,devicePixelRatio:1,events:[],
            layout:{padding:{top:top,right:32.3,left:0,bottom:0}},
            plugins:{legend:{display:false},tooltip:{enabled:false}},
            scales:{
                x:{type:'linear',min:xMin,max:xMax,
                    afterBuildTicks:function(s){s.ticks=xTicks.map(function(v){return {value:v};});},
                    afterFit:function(s){s.height=xHeight;},
                    border:{display:false},
                    grid:{drawOnChartArea:false,drawTicks:true,tickLength:25,tickWidth:2,tickColor:'#000'},
                    ticks:{autoSkip:false,maxRotation:0,minRotation:0,padding:27,font:{size:31},color:'#000'}},
                y:{min:yMin,max:yMax,
                    afterBuildTicks:function(s){s.ticks=qqYTicks.map(function(v){return {value:v};});},
                    afterFit:function(s){s.width=181.6;},
                    border:{display:false},
                    grid:{drawOnChartArea:false,drawTicks:true,tickLength:24,tickWidth:2,tickColor:'#000'},
                    ticks:{display:false}}
            }
        },
        plugins:[{
            id:'qqText',
            afterDraw:function(c){
                var ctx=c.ctx,a=c.chartArea,sy=c.scales.y;
                ctx.save();
                ctx.strokeStyle='#000';ctx.lineWidth=2.5;
                ctx.strokeRect(a.left,a.top,a.right-a.left,a.bottom-a.top);
                ctx.font='31px "DejaVu Sans"';ctx.fillStyle='#000';ctx.textAlign='center';ctx.textBaseline='middle';
                qqYTicks.forEach(function(v){
                    ctx.save();
                    ctx.translate(115,sy.getPixelForValue(v));
                    ctx.rotate(-Math.PI/2);
                    ctx.fillText(String(v),0,0);
                    ctx.restore();
                });
                ctx.restore();
                drawLogP(ctx,34,(a.top+a.bottom)/2,38,'Observed  ',true);
                drawLogP(ctx,(a.left+a.right)/2,a.bottom+163,38,'Expected  ',false);
            }
        }]
    });
}

manhattan('manA',massesA,hitListA,stacksA,snpsA,184,130.4);
manhattan('manB',massesB,hitListB,stacksB,snpsB,157.5,164.5);
qq('qqA',[qqCurveA],qqTailA,qqDiagA,qqTicksA,-.294,7.72,-.539,13.92,211.5,165.8);
qq('qqB',[qqCurveB1,qqCurveB2],qqTailB,qqDiagB,qqTicksB,-.306,8.03,-.51,13.22,184.4,198.5);
</script>
</body>
</html>
